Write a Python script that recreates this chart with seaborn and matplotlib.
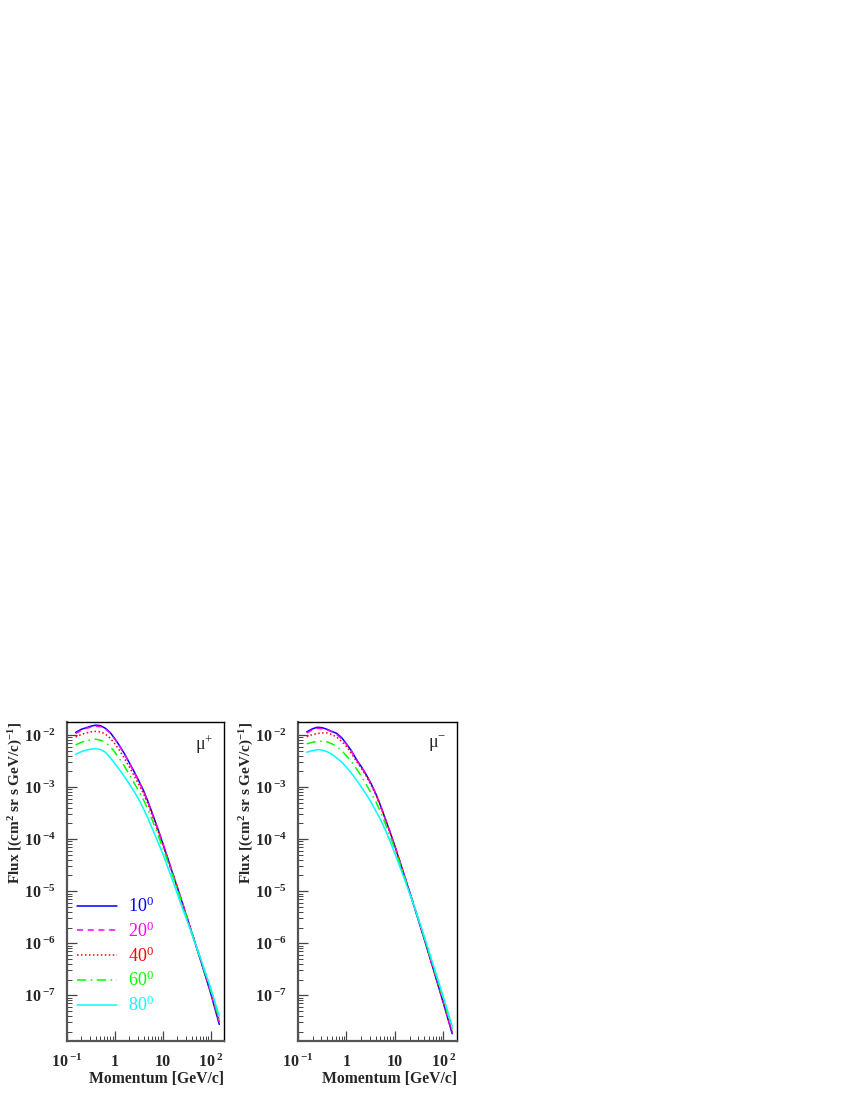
import math
import pandas as pd
import matplotlib.pyplot as plt
import matplotlib.ticker as mticker
import seaborn as sns

# log10 del momento [GeV/c]
log_p = [-0.82, -0.7, -0.6, -0.5, -0.4, -0.3, -0.2, -0.1, 0.0, 0.1, 0.2, 0.3, 0.4,
         0.5, 0.6, 0.7, 0.8, 0.9, 1.0, 1.2, 1.4, 1.6, 1.8, 2.0, 2.18]

angles = ["10", "20", "40", "60", "80"]

# log10 del flujo [(cm^2 sr s GeV/c)^-1], mu+
mup_10 = [-1.95, -1.89, -1.86, -1.83, -1.81, -1.82, -1.87, -1.95, -2.07, -2.21, -2.36, -2.53, -2.70,
          -2.88, -3.07, -3.30, -3.55, -3.81, -4.08, -4.64, -5.20, -5.78, -6.36, -6.96, -7.56]
mup_20 = [-1.97, -1.91, -1.87, -1.85, -1.83, -1.84, -1.88, -1.96, -2.08, -2.22, -2.37, -2.54, -2.71,
          -2.89, -3.08, -3.31, -3.56, -3.82, -4.08, -4.63, -5.19, -5.77, -6.34, -6.93, -7.52]
mup_40 = [-2.04, -1.99, -1.96, -1.94, -1.93, -1.94, -1.98, -2.06, -2.17, -2.30, -2.45, -2.61, -2.78,
          -2.95, -3.13, -3.35, -3.60, -3.85, -4.11, -4.65, -5.20, -5.77, -6.34, -6.92, -7.50]
mup_60 = [-2.19, -2.14, -2.11, -2.09, -2.08, -2.10, -2.14, -2.22, -2.33, -2.46, -2.60, -2.76, -2.92,
          -3.08, -3.25, -3.45, -3.68, -3.92, -4.16, -4.68, -5.22, -5.78, -6.34, -6.90, -7.46]
mup_80 = [-2.37, -2.32, -2.29, -2.27, -2.26, -2.28, -2.33, -2.43, -2.55, -2.67, -2.80, -2.94, -3.08,
          -3.24, -3.42, -3.62, -3.84, -4.06, -4.28, -4.78, -5.30, -5.80, -6.32, -6.86, -7.40]

# mu-
mum_10 = [-1.94, -1.88, -1.85, -1.86, -1.89, -1.93, -1.97, -2.05, -2.17, -2.30, -2.46, -2.60, -2.75,
          -2.92, -3.12, -3.35, -3.61, -3.87, -4.14, -4.72, -5.31, -5.91, -6.53, -7.16, -7.74]
mum_20 = [-1.96, -1.90, -1.87, -1.88, -1.90, -1.94, -1.99, -2.07, -2.18, -2.31, -2.47, -2.61, -2.76,
          -2.93, -3.12, -3.35, -3.61, -3.87, -4.14, -4.71, -5.30, -5.90, -6.52, -7.14, -7.72]
mum_40 = [-2.03, -1.99, -1.97, -1.96, -1.96, -1.99, -2.04, -2.12, -2.22, -2.35, -2.50, -2.63, -2.78,
          -2.95, -3.14, -3.37, -3.62, -3.88, -4.15, -4.72, -5.30, -5.90, -6.51, -7.13, -7.70]
mum_60 = [-2.17, -2.14, -2.12, -2.12, -2.13, -2.17, -2.22, -2.30, -2.40, -2.51, -2.64, -2.78, -2.94,
          -3.10, -3.27, -3.47, -3.70, -3.95, -4.20, -4.74, -5.30, -5.88, -6.48, -7.08, -7.66]
mum_80 = [-2.33, -2.30, -2.28, -2.29, -2.32, -2.37, -2.44, -2.52, -2.62, -2.73, -2.86, -2.99, -3.13,
          -3.28, -3.45, -3.62, -3.82, -4.05, -4.28, -4.78, -5.30, -5.86, -6.45, -7.04, -7.60]

# marcas de los ejes
x_ticks = [0.1, 1, 10, 100]
y_ticks = [1e-7, 1e-6, 1e-5, 1e-4, 1e-3, 1e-2]

colores = {"10": "#0000ff", "20": "#ff00ff", "40": "#ff0000", "60": "#00ff00", "80": "#00ffff"}
estilos = {"10": "", "20": (4, 3), "40": (1, 1.6), "60": (6, 3, 1, 3), "80": ""}


def armar_df(series):
    filas = []
    for ang, valores in zip(angles, series):
        for lp, lf in zip(log_p, valores):
            filas.append({"momentum": 10 ** lp, "flux": 10 ** lf, "angle": ang})
    return pd.DataFrame(filas)


df_mup = armar_df([mup_10, mup_20, mup_40, mup_60, mup_80])
df_mum = armar_df([mum_10, mum_20, mum_40, mum_60, mum_80])

sns.set_style("ticks")
plt.rcParams["font.family"] = ["Liberation Serif", "DejaVu Serif"]
plt.rcParams["mathtext.fontset"] = "custom"
plt.rcParams["mathtext.rm"] = "Liberation Serif"
plt.rcParams["mathtext.it"] = "Liberation Serif:italic"
plt.rcParams["mathtext.bf"] = "Liberation Serif:bold"


def etiqueta_y(v, pos):
    e = int(round(math.log10(v)))
    return r"10$^{\;\mathbf{%d}}$" % e


def etiqueta_x(v, pos):
    e = int(round(math.log10(v)))
    if e == 0:
        return "1"
    if e == 1:
        return "10"
    return r"10$^{\;\mathbf{%d}}$" % e


fig = plt.figure(figsize=(8.5, 11), dpi=100)
ax1 = fig.add_axes([67 / 850, 1 - 1041 / 1100, 157 / 850, 319 / 1100])
ax2 = fig.add_axes([298 / 850, 1 - 1041 / 1100, 159 / 850, 319 / 1100])

for ax, df, texto, leyenda in [(ax1, df_mup, "μ$^{+}$", True), (ax2, df_mum, "μ$^{-}$", False)]:
    sns.lineplot(data=df, x="momentum", y="flux", hue="angle", style="angle",
                 hue_order=angles, style_order=angles, palette=colores, dashes=estilos,
                 estimator=None, linewidth=1.1, legend=leyenda, ax=ax)
    ax.set_xscale("log")
    ax.set_yscale("log")
    ax.set_xlim(0.1, 190)
    ax.set_ylim(1.32e-8, 1.78e-2)

    ax.xaxis.set_major_locator(mticker.FixedLocator(x_ticks))
    ax.yaxis.set_major_locator(mticker.FixedLocator(y_ticks))
    ax.xaxis.set_minor_locator(mticker.LogLocator(base=10, subs=range(2, 10), numticks=20))
    ax.yaxis.set_minor_locator(mticker.LogLocator(base=10, subs=range(2, 10), numticks=20))
    ax.xaxis.set_major_formatter(mticker.FuncFormatter(etiqueta_x))
    ax.yaxis.set_major_formatter(mticker.FuncFormatter(etiqueta_y))
    ax.xaxis.set_minor_formatter(mticker.NullFormatter())
    ax.yaxis.set_minor_formatter(mticker.NullFormatter())

    ax.tick_params(axis="both", which="both", direction="in", top=False, right=False,
                   color="#444444")
    ax.tick_params(axis="both", which="major", length=7, width=0.9)
    ax.tick_params(axis="both", which="minor", length=3.5, width=0.7)
    ax.tick_params(axis="y", which="major", pad=8, labelsize=11.5)
    ax.tick_params(axis="x", which="major", pad=9, labelsize=11.5)
    for lab in ax.get_xticklabels() + ax.get_yticklabels():
        lab.set_fontweight("bold")

    for lado in ["left", "bottom"]:
        ax.spines[lado].set_color("#555555")
        ax.spines[lado].set_linewidth(1.6)
    for lado in ["top", "right"]:
        ax.spines[lado].set_color("black")
        ax.spines[lado].set_linewidth(1.0)

    ax.set_xlabel("Momentum [GeV/c]", fontsize=11.3, fontweight="bold", loc="right")
    ax.set_ylabel(r"Flux [(cm$^{\mathbf{2}}$ sr s GeV/c)$^{\mathbf{-1}}$]", fontsize=11,
                  fontweight="bold", loc="top")
    ax.xaxis.set_label_coords(1.0, -0.094)
    ax.yaxis.set_label_coords(-0.265, 1.0)
    ax.text(0.93, 0.93, texto, transform=ax.transAxes, ha="right", va="center", fontsize=13)

handles, labels = ax1.get_legend_handles_labels()
ax1.legend(handles, [r"%s$^{0}$" % l for l in labels], loc="upper left",
           bbox_to_anchor=(0.032, 0.47), frameon=False, fontsize=13, handlelength=2.2,
           handletextpad=0.6, labelspacing=0.3, labelcolor="linecolor", borderpad=0.0,
           borderaxespad=0.3)

plt.savefig("out.png", dpi=100)
